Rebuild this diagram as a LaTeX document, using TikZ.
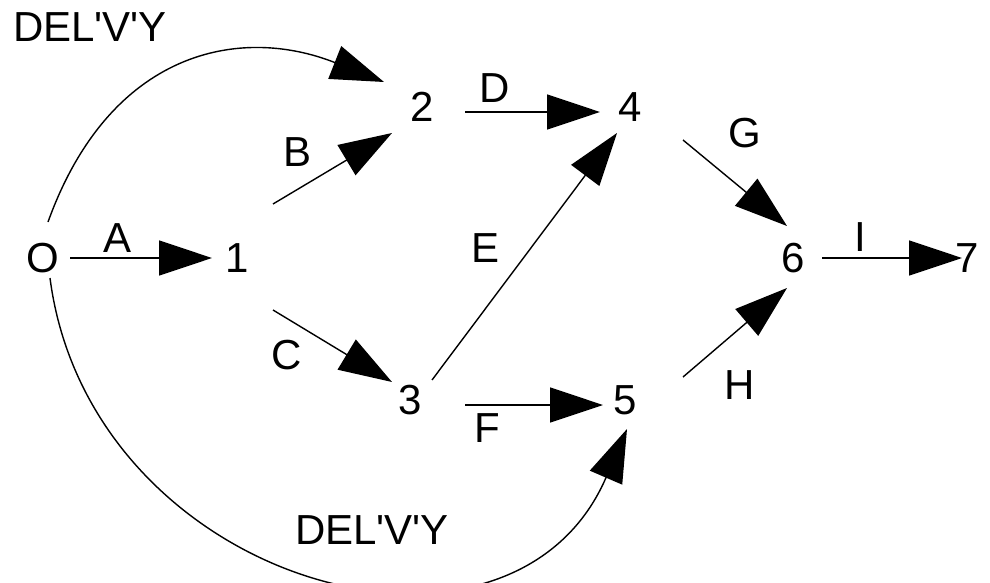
\documentclass[tikz,border=0pt]{standalone}
\usepackage{fontspec}
\setmainfont{Liberation Sans}
\usetikzlibrary{arrows.meta,calc}
\newcommand{\sq}{\textquotesingle}
\begin{document}
\begin{tikzpicture}[x=1pt,y=-1pt,
  lbl/.style={inner sep=0pt, font=\fontsize{42}{50}\selectfont},
  arr/.style={line width=1.4pt, -{Triangle[length=53pt,width=35pt]}}]
\useasboundingbox (0,0) rectangle (990,583);
% event nodes
\node[lbl] (O) at (43,258) {O};
\node[lbl] (n1) at (237,258) {1};
\node[lbl] (n2) at (422,107) {2};
\node[lbl] (n3) at (410,400) {3};
\node[lbl] (n4) at (630,107) {4};
\node[lbl] (n5) at (625,400) {5};
\node[lbl] (n6) at (793,258) {6};
\node[lbl] (n7) at (967,258) {7};
% activity labels
\node[lbl] (ltop) at (90,27) {DEL\sq V\sq Y};
\node[lbl] (lbot) at (372,530) {DEL\sq V\sq Y};
\node[lbl] (la) at (118,238) {A};
\node[lbl] (lb) at (298,152) {B};
\node[lbl] (lc) at (287,355) {C};
\node[lbl] (ld) at (495,88) {D};
\node[lbl] (le) at (485,248) {E};
\node[lbl] (lf) at (487,428) {F};
\node[lbl] (lg) at (745,133) {G};
\node[lbl] (lh) at (740,385) {H};
\node[lbl] (li) at (860,237) {I};
% activities
\draw[arr] ($(O)+(27,0)$) -- ($(n1)+(-25,0)$);
\draw[arr] ($(n1)+(36,-54)$) -- ($(n2)+(-30,26)$);
\draw[arr] ($(n1)+(36,52)$) -- ($(n3)+(-18,-18)$);
\draw[arr] ($(n2)+(43,5)$) -- ($(n4)+(-30,5)$);
\draw[arr] ($(n3)+(22,-20)$) -- ($(n4)+(-13,26)$);
\draw[arr] ($(n3)+(55,5)$) -- ($(n5)+(-22,5)$);
\draw[arr] ($(n4)+(53,33)$) -- ($(n6)+(-6,-32)$);
\draw[arr] ($(n5)+(58,-23)$) -- ($(n6)+(-6,30)$);
\draw[arr] ($(n6)+(29,0)$) -- ($(n7)+(-5,0)$);
% delivery arcs
\draw[arr] ($(O)+(5,-36)$) .. controls (110,50) and (240,25) .. ($(n2)+(-38,-25)$);
\draw[arr] ($(O)+(7,20)$) .. controls (90,585) and (510,700) .. ($(n5)+(2,29)$);
\end{tikzpicture}
\end{document}
